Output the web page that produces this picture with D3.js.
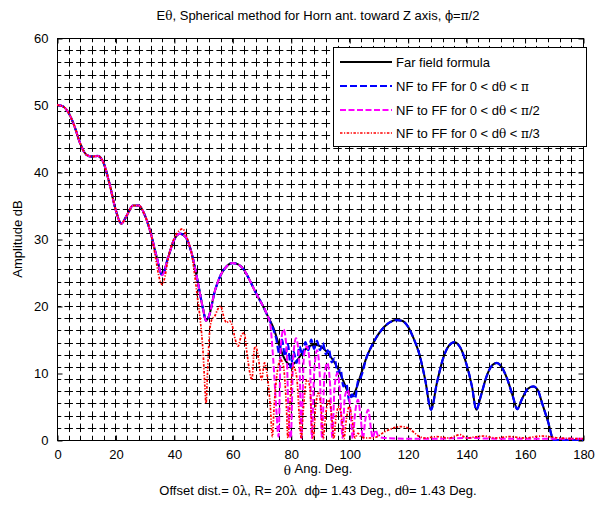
<!DOCTYPE html>
<html>
<head>
<meta charset="utf-8">
<script src="https://cdn.jsdelivr.net/npm/d3@7"></script>
<style>
  html, body { margin: 0; padding: 0; background: #fff; }
  svg { display: block; font-family: "Liberation Sans", Arial, Helvetica, sans-serif; }
</style>
</head>
<body>
<svg id="chart" width="599" height="506"></svg>
<script>
// Far field formula (reference pattern), theta in degrees, amplitude in dB
const ffTheta = [0,2,4,6,8,10,12,14,16,18,20,22,24,26,28,30,32,34,36,38,40,42,44,46,48,50,51,52,54,56,58,60,62,64,66,68,70,72,74,76,78,80,82,84,86,88,90,92,94,96,98,100,101,102,104,106,108,110,112,114,116,118,120,122,124,126,128,130,132,134,136,138,140,142,143.5,145,147,149,150.5,152,154,156,157.5,159,161,163,164.5,166,168,170,175,180];
const ffDb    = [50,49.8,48.8,46.8,44.2,42.6,42.3,42.4,41.3,38.2,34.5,32.3,33.6,35.0,35.0,33.6,31.0,27.5,24.6,27.2,29.8,30.8,30.3,28.0,24.0,19.5,17.8,18.5,22.2,24.6,25.9,26.4,26.2,25.4,23.8,22.0,20.4,18.6,16.8,14.2,12.0,11.2,11.8,13.0,13.9,14.2,14.0,13.3,12.2,10.8,8.8,6.8,6.5,7.2,9.8,12.4,14.3,15.8,16.9,17.6,17.9,17.8,17.0,15.2,12.8,9.0,4.5,8.5,12.0,14.0,14.6,13.8,11.5,8.0,4.5,6.5,9.5,11.2,11.5,11.0,9.2,6.5,4.6,6.0,7.6,8.0,7.5,5.5,2.8,0.0,0.0,0.0];

// NF to FF, 0 < dtheta < pi
const nfPiTheta = [0,2,4,6,8,10,12,14,16,18,20,22,24,26,28,30,32,34,36,38,40,42,44,46,48,50,51,52,54,56,58,60,62,64,66,68,70,72,74,75,76,77,78,79,80,81,82,83,84,85,86,87,88,89,90,91,92,93,94,95,96,97,98,99,100,101,102,103,104,106,108,110,112,114,116,118,120,122,124,126,128,130,132,134,136,138,140,142,143.5,145,147,149,150.5,152,154,156,157.5,159,161,163,164.5,166,168,170,175,180];
const nfPiDb    = [50,49.8,48.8,46.8,44.2,42.6,42.3,42.4,41.3,38.2,34.5,32.3,33.6,35.0,35.0,33.6,31.0,27.5,24.6,27.2,29.8,30.8,30.3,28.0,24.0,19.5,17.8,18.5,22.2,24.6,25.9,26.4,26.2,25.4,23.8,22.0,20.4,18.6,16.5,15.2,13.0,15.0,12.5,14.3,10.8,13.2,11.5,14.0,12.6,14.6,13.4,15.0,13.6,14.8,13.4,14.5,12.8,13.6,11.6,12.2,10.0,10.6,8.0,8.4,5.8,6.8,6.2,8.8,9.4,12.4,14.3,15.8,16.9,17.6,17.9,17.8,17.0,15.2,12.8,9.0,4.5,8.5,12.0,14.0,14.6,13.8,11.5,8.0,4.5,6.5,9.5,11.2,11.5,11.0,9.2,6.5,4.6,6.0,7.6,8.0,7.5,5.5,2.8,0.0,0.0,0.0];

// NF to FF, 0 < dtheta < pi/2
const nfHalfTheta = [0,2,4,6,8,10,12,14,16,18,20,22,24,26,28,30,32,34,36,38,40,42,44,46,48,50,51,52,54,56,58,60,62,64,66,68,70,72,73,74,75,75.8,76.6,77.5,78.5,79.3,80,80.8,81.8,83,83.6,84.5,85.5,86.6,87.2,88,89,90,90.7,91.5,92.5,93.5,94.2,95,96,97,97.7,98.5,99.5,100.5,101.2,102,103,104,104.7,105.5,106.5,107.5,108,109,110,112,120,130,140,150,160,170,180];
const nfHalfDb    = [50,49.8,48.8,46.8,44.2,42.6,42.3,42.4,41.3,38.2,34.5,32.3,33.6,35.0,35.0,33.6,31.0,27.5,24.6,27.2,29.8,30.8,30.3,28.0,24.0,19.5,17.8,18.5,22.2,24.6,25.9,26.4,26.2,25.4,23.8,22.0,20.4,18.6,17.2,12.0,5.0,0.5,14.0,16.5,14.0,3.0,0.3,12.0,15.2,11.0,0.3,12.5,14.0,11.0,0.3,10.0,13.4,9.0,0.2,9.5,11.5,8.0,0.3,8.0,10.0,6.0,0.3,6.5,7.5,4.0,0.2,4.0,6.0,3.0,0.2,3.0,4.5,1.5,0.3,1.5,0.5,0.3,0.2,0.2,0.3,0.2,0.2,0.2,0.2];

// NF to FF, 0 < dtheta < pi/3
const nfThirdTheta = [0,2,4,6,8,10,12,14,16,18,20,22,24,26,28,30,32,33,34,35,36,37,38,40,42,43,44,45,46,47,48,49,50,50.6,51,51.5,52.2,53,54,55,56,57,58,59,60,61,62,63,64,65,66,66.7,67.5,68,69,70,71,72,73,73.7,74.3,75.5,76.5,77.5,78.5,79,79.8,80.8,82,83,83.6,84.2,85.5,86.5,87.2,87.7,88.5,89.5,90.5,91.1,92,93,94,94.7,95.5,96.5,97.5,98.2,99,100,101,102,103,104,106,108,110,112,114,116,118,120,122,124,126,130,134,138,140,146,150,155,160,166,172,180];
const nfThirdDb    = [50,49.8,48.8,46.8,44.2,42.6,42.3,42.4,41.3,38.2,34.5,32.3,33.6,35.0,35.0,33.6,31.0,29.0,26.5,24.2,23.2,24.5,27.0,30.0,31.3,31.5,30.8,29.5,28.0,25.0,21.5,18.0,13.0,8.0,5.5,10.0,16.0,18.0,18.5,19.5,20.0,18.5,17.5,17.8,17.0,15.0,14.0,15.5,16.0,13.0,10.0,9.0,13.5,14.0,12.0,9.0,11.5,9.5,5.0,0.5,5.0,10.5,12.0,11.0,5.0,0.3,6.0,11.0,9.5,3.0,0.2,4.0,9.0,8.0,2.0,0.2,5.0,7.0,4.0,0.2,4.0,6.0,3.5,0.2,3.5,5.0,3.0,0.2,3.0,5.0,3.0,0.3,1.0,0.5,0.3,0.3,0.6,1.2,1.6,1.9,2.0,1.8,1.2,0.5,0.3,0.5,0.3,0.8,0.3,0.6,0.3,0.5,0.3,0.6,0.3,0.2];

const xTicks = [0,20,40,60,80,100,120,140,160,180];
const yTicks = [0,10,20,30,40,50,60];

const legendLabels = [
  ["Far field formula"],
  ["NF to FF for 0 < d", "θ", " < ", "π"],
  ["NF to FF for 0 < d", "θ", " < ", "π", "/2"],
  ["NF to FF for 0 < d", "θ", " < ", "π", "/3"]
];

const series = [
  { theta: ffTheta,      db: ffDb,      color: "#000000", dash: null,        width: 2 },
  { theta: nfPiTheta,    db: nfPiDb,    color: "#0000ff", dash: "7,3",       width: 2.2 },
  { theta: nfHalfTheta,  db: nfHalfDb,  color: "#ff00ff", dash: "6,2.5",     width: 2 },
  { theta: nfThirdTheta, db: nfThirdDb, color: "#ff0000", dash: "2.5,1.5,1.2,1.5", width: 1.7 }
];

const svg = d3.select("#chart");
const m = { left: 57, right: 583, top: 38, bottom: 440 };

const x = d3.scaleLinear().domain([0, 180]).range([m.left, m.right]);
const y = d3.scaleLinear().domain([0, 60]).range([m.bottom, m.top]);

// dense dotted-style grid: short dashes crossing at every grid node
const gridX = d3.range(4, 180, 4);
const gridY = d3.range(1, 33).map(i => i * 60 / 33);
const cellW = x(4) - x(0);
const cellH = y(0) - y(60 / 33);
const arm = 8.5;
const grid = svg.append("g").attr("stroke", "#000").attr("stroke-width", 1);
grid.selectAll("line.v").data(gridX).join("line")
  .attr("x1", d => Math.round(x(d)) + 0.5).attr("x2", d => Math.round(x(d)) + 0.5)
  .attr("y1", m.top).attr("y2", m.bottom)
  .attr("stroke-dasharray", `${arm},${cellH - arm}`).attr("stroke-dashoffset", arm / 2);
grid.selectAll("line.h").data(gridY).join("line")
  .attr("y1", d => Math.round(y(d)) + 0.5).attr("y2", d => Math.round(y(d)) + 0.5)
  .attr("x1", m.left).attr("x2", m.right)
  .attr("stroke-dasharray", `${arm},${cellW - arm}`).attr("stroke-dashoffset", arm / 2);

// axes box
svg.append("rect")
  .attr("x", m.left + 0.5).attr("y", m.top + 0.5)
  .attr("width", m.right - m.left).attr("height", m.bottom - m.top)
  .attr("fill", "none").attr("stroke", "#000").attr("stroke-width", 1);

// inward ticks on all four sides
const ax = svg.append("g");
const xAxisB = d3.axisBottom(x).tickValues(xTicks).tickSize(-5).tickPadding(9).tickFormat(d3.format("d"));
const gB = ax.append("g").attr("transform", `translate(0.5,${m.bottom + 0.5})`).call(xAxisB);
const xAxisT = d3.axisTop(x).tickValues(xTicks).tickSize(-5).tickFormat("");
const gT = ax.append("g").attr("transform", `translate(0.5,${m.top + 0.5})`).call(xAxisT);
const yAxisL = d3.axisLeft(y).tickValues(yTicks).tickSize(-5).tickPadding(9).tickFormat(d3.format("d"));
const gL = ax.append("g").attr("transform", `translate(${m.left + 0.5},0.5)`).call(yAxisL);
const yAxisR = d3.axisRight(y).tickValues(yTicks).tickSize(-5).tickFormat("");
const gR = ax.append("g").attr("transform", `translate(${m.right + 0.5},0.5)`).call(yAxisR);
[gB, gT, gL, gR].forEach(g => {
  g.select(".domain").remove();
  g.selectAll("text").attr("font-size", 13).attr("fill", "#000")
    .attr("font-family", "'Liberation Sans', Arial, sans-serif");
});

// curves
svg.append("clipPath").attr("id", "plotclip")
  .append("rect").attr("x", m.left).attr("y", m.top - 2)
  .attr("width", m.right - m.left + 1).attr("height", m.bottom - m.top + 3);
const line = d3.line().x(d => x(d[0])).y(d => y(d[1])).curve(d3.curveMonotoneX);
const curves = svg.append("g").attr("clip-path", "url(#plotclip)");
series.forEach(s => {
  const pts = s.theta.map((t, i) => [t, s.db[i]]);
  curves.append("path").datum(pts)
    .attr("d", line)
    .attr("fill", "none")
    .attr("stroke", s.color)
    .attr("stroke-width", s.width)
    .attr("stroke-dasharray", s.dash)
    .attr("stroke-linejoin", "round");
});

// legend
const lg = svg.append("g");
lg.append("rect").attr("x", 333.5).attr("y", 47.5).attr("width", 253).attr("height", 99)
  .attr("fill", "#fff").attr("stroke", "#000").attr("stroke-width", 1);
const rowY = [62, 86, 110, 133];
series.forEach((s, i) => {
  lg.append("line").attr("x1", 340).attr("x2", 392).attr("y1", rowY[i]).attr("y2", rowY[i])
    .attr("stroke", s.color).attr("stroke-width", s.width).attr("stroke-dasharray", s.dash);
  const t = lg.append("text").attr("x", 396).attr("y", rowY[i] + 5)
    .attr("font-size", 13).attr("fill", "#000");
  legendLabels[i].forEach(part => {
    const greek = part === "θ" || part === "π";
    t.append("tspan").text(part).attr("font-size", greek ? 12 : 13)
      .attr("font-family", greek ? "'DejaVu Serif', serif" : null);
  });
});

// title
const title = svg.append("text").attr("x", 318).attr("y", 20).attr("text-anchor", "middle")
  .attr("font-size", 13).attr("fill", "#000");
[["E", 0], ["θ", 1], [", Spherical method for Horn ant. toward Z axis, ", 0], ["ϕ", 1], ["=", 0], ["π", 1], ["/2", 0]]
  .forEach(([s, g]) => title.append("tspan").text(s)
    .attr("font-size", g ? 12 : 13)
    .attr("font-family", g ? "'DejaVu Serif', serif" : null));

// x label
const xl = svg.append("text").attr("x", 318).attr("y", 473).attr("text-anchor", "middle")
  .attr("font-size", 13).attr("fill", "#000");
xl.append("tspan").text("θ").attr("font-size", 12).attr("font-family", "'DejaVu Serif', serif").attr("dy", 2);
xl.append("tspan").text(" Ang. Deg.").attr("dy", -2);

const sub = svg.append("text").attr("x", 318).attr("y", 495).attr("text-anchor", "middle")
  .attr("font-size", 13).attr("fill", "#000");
[["Offset dist.= 0", 0], ["λ", 1], [", R= 20", 0], ["λ", 1], ["  d", 0], ["ϕ", 1], ["= 1.43 Deg., d", 0], ["θ", 1], ["= 1.43 Deg.", 0]]
  .forEach(([s, g]) => sub.append("tspan").text(s)
    .attr("font-size", g ? 12 : 13)
    .attr("font-family", g ? "'DejaVu Serif', serif" : null)
    .attr("xml:space", "preserve"));

// y label
svg.append("text").attr("transform", "translate(22,239) rotate(-90)")
  .attr("text-anchor", "middle").attr("font-size", 13).attr("fill", "#000")
  .text("Amplitude dB");
</script>
</body>
</html>
